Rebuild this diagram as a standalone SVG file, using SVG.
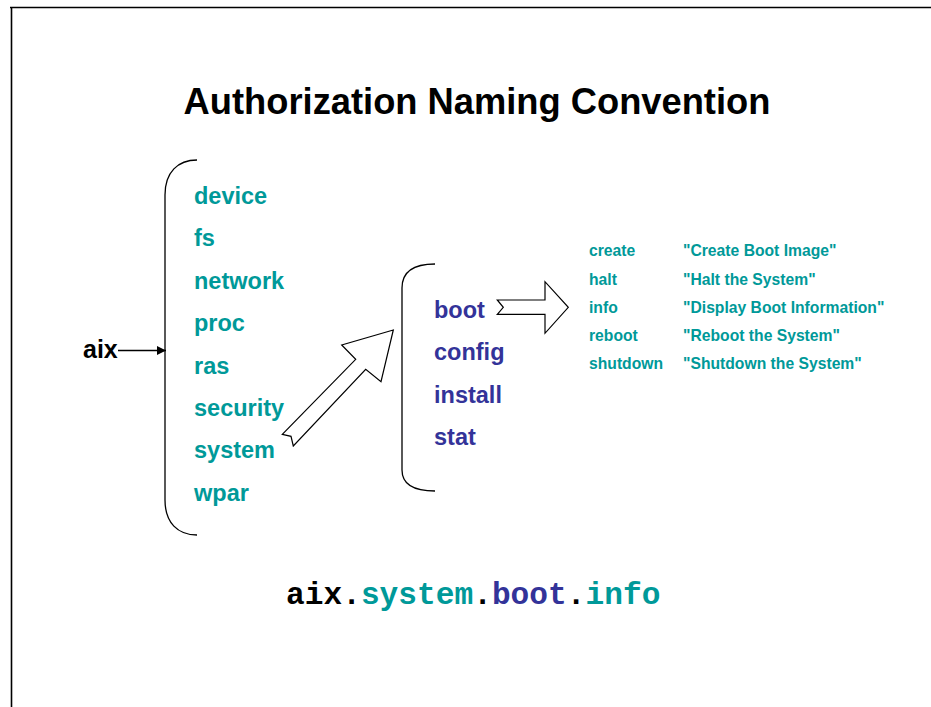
<svg xmlns="http://www.w3.org/2000/svg" width="931" height="707" viewBox="0 0 931 707">
<style>
text{font-family:"Liberation Sans",Arial,sans-serif;font-weight:bold}
.l1{fill:#009999;font-size:23.5px}
.l2{fill:#333399;font-size:23.5px}
.t{fill:#009999;font-size:15.7px}
.br{fill:none;stroke:#000;stroke-width:1.3}
.ar{fill:#fff;stroke:#000;stroke-width:1.2;stroke-linejoin:miter}
.mono{font-family:"Liberation Mono","Courier New",monospace;font-size:31.2px;font-weight:bold}
</style>
<defs>
<marker id="ah" markerWidth="10" markerHeight="10" refX="9" refY="5" orient="auto" markerUnits="userSpaceOnUse">
<path d="M0,0.5 L9,5 L0,9.5 Z" fill="#000"/>
</marker>
</defs>
<rect width="931" height="707" fill="#fff"/>
<path d="M10,7.5 H931 M11.5,7 V707" stroke="#000" stroke-width="1.6" fill="none"/>
<text x="477" y="114" text-anchor="middle" style="font-size:36.3px" fill="#000">Authorization Naming Convention</text>

<g id="aix">
<text x="83" y="358" style="font-size:25px" fill="#000">aix</text>
</g>

<g id="bracket1">
<path class="br" d="M197,160 C178,160 165,172 165,195 V500 C165,523 178,535 197,535"/>
<text class="l1" x="194" y="204">device</text>
<text class="l1" x="194" y="246">fs</text>
<text class="l1" x="194" y="289">network</text>
<text class="l1" x="194" y="331">proc</text>
<text class="l1" x="194" y="374">ras</text>
<text class="l1" x="194" y="416">security</text>
<text class="l1" x="194" y="458">system</text>
<text class="l1" x="194" y="501">wpar</text>
</g>

<g id="bracket2">
<path class="br" d="M435,264 C416,264 402,270 402,288 V470 C402,486 416,491 435,491"/>
<text class="l2" x="434" y="318">boot</text>
<text class="l2" x="434" y="360">config</text>
<text class="l2" x="434" y="403">install</text>
<text class="l2" x="434" y="445">stat</text>
</g>

<g id="table">
<text class="t" x="589" y="256">create</text>
<text class="t" x="683" y="256">"Create Boot Image"</text>
<text class="t" x="589" y="285">halt</text>
<text class="t" x="683" y="285">"Halt the System"</text>
<text class="t" x="589" y="313">info</text>
<text class="t" x="683" y="313">"Display Boot Information"</text>
<text class="t" x="589" y="341">reboot</text>
<text class="t" x="683" y="341">"Reboot the System"</text>
<text class="t" x="589" y="369">shutdown</text>
<text class="t" x="683" y="369">"Shutdown the System"</text>
</g>

<g id="connectors">
<line x1="118" y1="350.5" x2="166" y2="350.5" stroke="#000" stroke-width="1.5" marker-end="url(#ah)"/>
<path class="ar" d="M393.3,330 L341.7,345 L355.7,359.3 L282.3,434.3 L291,436.3 L293.3,446 L365.7,369.3 L381,381.7 Z"/>
<path class="ar" d="M497.3,300 L545,300 L545,281.7 L568.3,307.3 L545,333.3 L545,314.3 L497.3,314.3 L503.3,307.3 Z"/>
</g>

<g id="formula">
<text class="mono" x="286" y="604"><tspan fill="#000">aix.</tspan><tspan fill="#009999">system</tspan><tspan fill="#000">.</tspan><tspan fill="#333399">boot</tspan><tspan fill="#000">.</tspan><tspan fill="#009999">info</tspan></text>
</g>
</svg>
